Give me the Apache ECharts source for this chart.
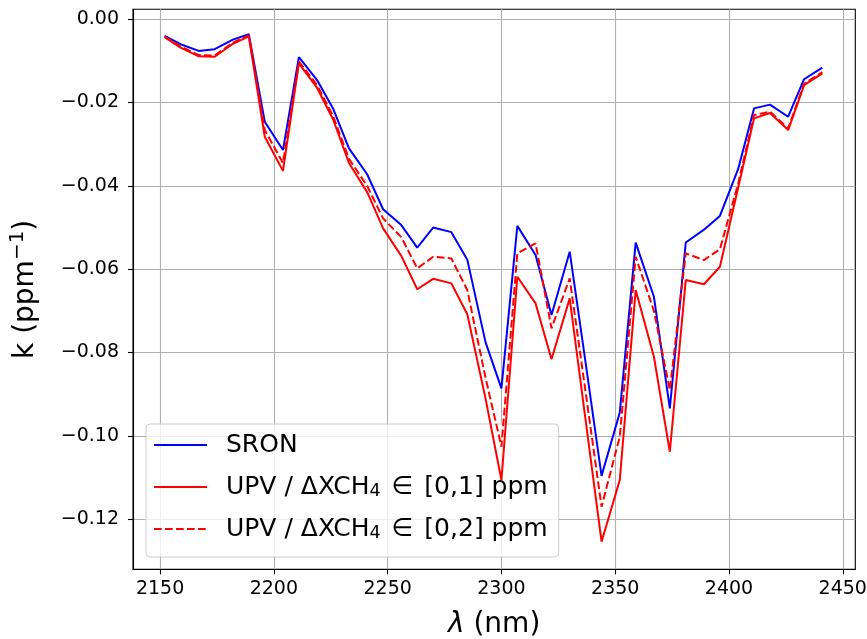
<!DOCTYPE html>
<html>
<head>
<meta charset="utf-8">
<script src="https://cdn.jsdelivr.net/npm/echarts@6/dist/echarts.min.js"></script>
<style>html,body{margin:0;padding:0;background:#fff;}#c{width:867px;height:639px;}</style>
</head>
<body>
<div id="c"></div>
<script>
// Wavelengths (nm)
const wavelengths = [2152, 2159, 2167, 2174, 2182, 2189, 2196, 2204, 2211, 2219,
  2226, 2233, 2241, 2248, 2256, 2263, 2270, 2278, 2285, 2293,
  2300, 2307, 2315, 2322, 2330, 2337, 2344, 2352, 2359, 2367,
  2374, 2381, 2389, 2396, 2404, 2411, 2418, 2426, 2433, 2441];
// k values (ppm^-1)
const sron = [-0.0040, -0.0060, -0.0076, -0.0072, -0.0049, -0.0036, -0.0246, -0.0314, -0.0091, -0.0146,
  -0.0214, -0.0310, -0.0372, -0.0456, -0.0494, -0.0548, -0.0500, -0.0511, -0.0577, -0.0775,
  -0.0886, -0.0496, -0.0566, -0.0710, -0.0558, -0.0825, -0.1096, -0.0944, -0.0536, -0.0666,
  -0.0934, -0.0536, -0.0505, -0.0472, -0.0360, -0.0214, -0.0205, -0.0234, -0.0144, -0.0116];
const upv01 = [-0.0043, -0.0068, -0.0089, -0.0090, -0.0059, -0.0041, -0.0282, -0.0364, -0.0106, -0.0165,
  -0.0240, -0.0345, -0.0415, -0.0502, -0.0568, -0.0648, -0.0623, -0.0634, -0.0708, -0.0910,
  -0.1106, -0.0618, -0.0682, -0.0816, -0.0670, -0.0963, -0.1254, -0.1106, -0.0650, -0.0810,
  -0.1038, -0.0626, -0.0636, -0.0594, -0.0405, -0.0238, -0.0225, -0.0266, -0.0158, -0.0130];
const upv02 = [-0.0042, -0.0065, -0.0086, -0.0087, -0.0056, -0.0039, -0.0266, -0.0345, -0.0102, -0.0158,
  -0.0232, -0.0335, -0.0400, -0.0478, -0.0523, -0.0598, -0.0570, -0.0574, -0.0650, -0.0860,
  -0.1026, -0.0562, -0.0538, -0.0742, -0.0622, -0.0895, -0.1170, -0.1002, -0.0570, -0.0700,
  -0.0890, -0.0562, -0.0578, -0.0552, -0.0395, -0.0230, -0.0222, -0.0262, -0.0155, -0.0127];
const xTicks = [2150, 2200, 2250, 2300, 2350, 2400, 2450];
const yTicks = [-0.12, -0.10, -0.08, -0.06, -0.04, -0.02, 0.00];
const seriesNames = ['SRON', 'UPV / \u0394XCH\u2084 \u2208 [0,1] ppm', 'UPV / \u0394XCH\u2084 \u2208 [0,2] ppm'];

const FONT = 'DejaVu Sans';
const pair = ys => wavelengths.map((x, i) => [x, ys[i]]);
const chart = echarts.init(document.getElementById('c'), null, {renderer: 'canvas'});
const lineW = 2;
chart.setOption({
  animation: false,
  backgroundColor: '#fff',
  grid: {left: 133, right: 11.7, top: 9.3, bottom: 69.6, containLabel: false, outerBoundsMode: 'none',
    show: true, borderColor: '#000', borderWidth: 1.1, backgroundColor: 'transparent'},
  xAxis: {
    type: 'value', min: 2138.1, max: 2455.5,
    name: '{it|\u03bb} (nm)', nameLocation: 'middle', nameGap: 41,
    nameTextStyle: {fontFamily: FONT, fontSize: 28, color: '#000',
      rich: {it: {fontFamily: FONT, fontSize: 28, fontStyle: 'italic', color: '#000'}}},
    axisLine: {show: true, onZero: false, lineStyle: {color: '#000', width: 1.1}},
    axisTick: {show: true, length: 5, customValues: xTicks, lineStyle: {color: '#000', width: 1.1}},
    axisLabel: {customValues: xTicks, margin: 10, fontFamily: FONT, fontSize: 19, color: '#000', formatter: v => String(v)},
    splitLine: {show: true, lineStyle: {color: '#b0b0b0', width: 1.1}}
  },
  yAxis: {
    type: 'value', min: -0.13204, max: 0.00238,
    name: 'k (ppm{sup|\u22121})', nameLocation: 'middle', nameGap: 92,
    nameTextStyle: {fontFamily: FONT, fontSize: 28, color: '#000', lineHeight: 30,
      rich: {sup: {fontFamily: FONT, fontSize: 20, lineHeight: 14, padding: [0, 0, 16, 0], color: '#000'}}},
    axisLine: {show: true, onZero: false, lineStyle: {color: '#000', width: 1.1}},
    axisTick: {show: true, length: 5, customValues: yTicks, lineStyle: {color: '#000', width: 1.1}},
    axisLabel: {customValues: yTicks, margin: 14, fontFamily: FONT, fontSize: 19, color: '#000',
      formatter: v => (v < -1e-9 ? '\u2212' : '') + Math.abs(v).toFixed(2)},
    splitLine: {show: true, lineStyle: {color: '#b0b0b0', width: 1.1}}
  },
  legend: {
    orient: 'vertical', left: 146, top: 424,
    padding: [8, 11, 15, 7], itemGap: 16, itemWidth: 53, itemHeight: 14,
    backgroundColor: 'rgba(255,255,255,0.8)', borderColor: '#cccccc', borderWidth: 1, borderRadius: 4,
    itemStyle: {opacity: 0},
    formatter: n => n.replace('\u2084', '{sub|4}').replace(' \u2208 ', '{rel|\u2208}'),
    textStyle: {fontFamily: FONT, fontSize: 25, color: '#000', padding: [0, 0, 0, 14], lineHeight: 26,
      rich: {
        sub: {fontFamily: FONT, fontSize: 17.5, lineHeight: 8, verticalAlign: 'bottom', color: '#000'},
        rel: {fontFamily: FONT, fontSize: 25, lineHeight: 26, color: '#000', padding: [0, 11, 0, 11]}
      }},
    data: seriesNames.map(n => ({name: n}))
  },
  series: [
    {name: seriesNames[0], type: 'line', data: pair(sron), symbol: 'none', lineStyle: {color: '#0000ff', width: lineW}, itemStyle: {color: '#0000ff'}, z: 3},
    {name: seriesNames[1], type: 'line', data: pair(upv01), symbol: 'none', lineStyle: {color: '#ff0000', width: lineW}, itemStyle: {color: '#ff0000'}, z: 4},
    {name: seriesNames[2], type: 'line', data: pair(upv02), symbol: 'none', lineStyle: {color: '#ff0000', width: lineW, type: [7.7, 3.3]}, itemStyle: {color: '#ff0000'}, z: 5}
  ]
});
</script>
</body>
</html>
